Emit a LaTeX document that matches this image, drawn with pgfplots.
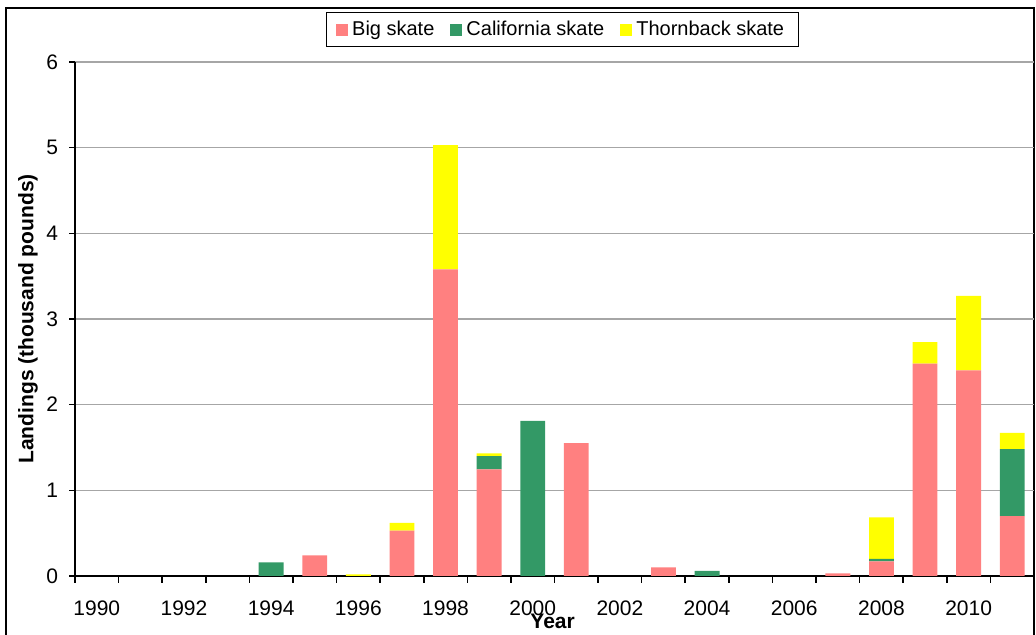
\documentclass[border=0pt]{standalone}
\usepackage{pgfplots}
\pgfplotsset{compat=1.18}
\usepackage{fontspec}
\setmainfont{Liberation Sans}

\definecolor{bigskate}{HTML}{FF8080}
\definecolor{calskate}{HTML}{339966}
\definecolor{thornskate}{HTML}{FFFF00}
\definecolor{gridgray}{HTML}{A6A6A6}

\begin{document}
\begin{tikzpicture}
% page area and outer chart frame
\path[use as bounding box] (-37.5pt,-29.5pt) rectangle (480.5pt,288pt);
\draw[line width=1pt] (-34.5pt,-40pt) -- (-34.5pt,284pt) -- (479.5pt,284pt) -- (479.5pt,-40pt);
\begin{axis}[
  at={(0,0)}, anchor=south west,
  scale only axis,
  width=479.5pt, height=257pt,
  ybar stacked,
  bar width=0.57,
  xmin=1989.5, xmax=2011.5,
  ymin=0, ymax=6,
  axis x line*=bottom,
  axis y line*=left,
  axis line style={line width=0.8pt, -},
  xtick={1990,1992,...,2010},
  major x tick style={draw=none},
  minor xtick={1989.5,1990.5,...,2011.5},
  minor x tick style={line width=0.8pt, black},
  minor tick length=3.5pt,
  ytick={0,1,...,6},
  major y tick style={line width=0.8pt, black},
  major tick length=3pt,
  tick align=outside,
  ymajorgrids,
  grid style={gridgray, line width=0.7pt},
  xticklabel style={font=\fontsize{10.5}{12}\selectfont, yshift=-6pt},
  yticklabel style={font=\fontsize{10.5}{12}\selectfont, xshift=-2pt},
  /pgf/number format/assume math mode=true,
  x tick label style={/pgf/number format/1000 sep={}},
  xlabel={Year},
  ylabel={Landings (thousand pounds)},
  every axis x label/.style={at={(axis description cs:0.498,-0.0875)}, anchor=center,
    font=\fontsize{10.5}{12}\selectfont\bfseries},
  every axis y label/.style={at={(axis description cs:-0.049,0.5)}, anchor=center, rotate=90,
    font=\fontsize{10.5}{12}\selectfont\bfseries},
  legend columns=3,
  legend style={at={(rel axis cs:0.508,1.063)}, anchor=center,
    draw=black, line width=0.6pt, fill=white,
    font=\fontsize{10}{12}\selectfont,
    inner xsep=5pt, inner ysep=2pt,
    /tikz/every even column/.append style={column sep=6pt}},
  legend image code/.code={\fill[#1] (0pt,-3pt) rectangle (6pt,3pt);},
]
\addplot[fill=bigskate, draw=none] coordinates {
 (1990,0) (1991,0) (1992,0) (1993,0) (1994,0) (1995,0.24) (1996,0) (1997,0.53)
 (1998,3.58) (1999,1.245) (2000,0) (2001,1.55) (2002,0) (2003,0.10) (2004,0)
 (2005,0) (2006,0) (2007,0.03) (2008,0.17) (2009,2.48) (2010,2.40) (2011,0.70)};
\addplot[fill=calskate, draw=none] coordinates {
 (1990,0) (1991,0) (1992,0) (1993,0) (1994,0.16) (1995,0) (1996,0) (1997,0)
 (1998,0) (1999,0.155) (2000,1.81) (2001,0) (2002,0) (2003,0) (2004,0.06)
 (2005,0) (2006,0) (2007,0) (2008,0.03) (2009,0) (2010,0) (2011,0.78)};
\addplot[fill=thornskate, draw=none] coordinates {
 (1990,0) (1991,0) (1992,0) (1993,0) (1994,0) (1995,0) (1996,0.02) (1997,0.09)
 (1998,1.45) (1999,0.03) (2000,0) (2001,0) (2002,0) (2003,0) (2004,0)
 (2005,0) (2006,0) (2007,0) (2008,0.485) (2009,0.25) (2010,0.87) (2011,0.19)};
\legend{Big skate, California skate, Thornback skate}
\end{axis}
\end{tikzpicture}
\end{document}
